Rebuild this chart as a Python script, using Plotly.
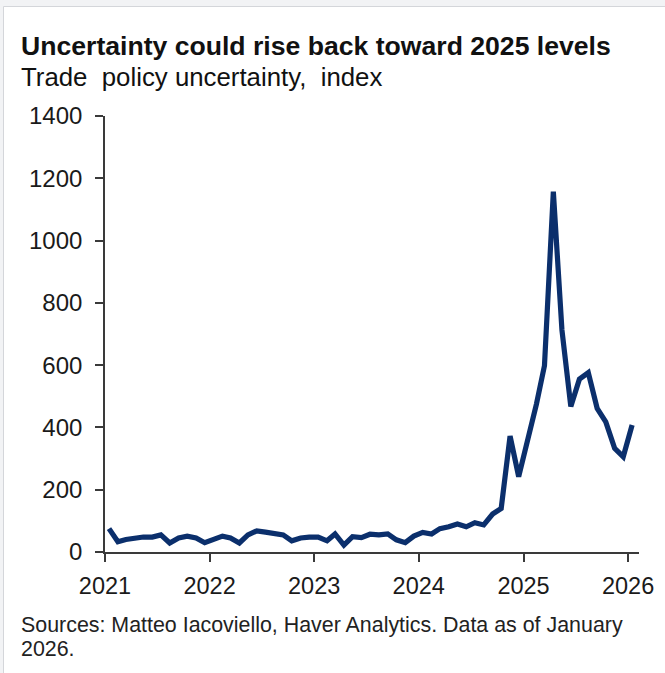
import plotly.graph_objects as go

# Trade policy uncertainty index, monthly, Jan 2021 - Jan 2026
years = [2021, 2022, 2023, 2024, 2025, 2026]
tpu_2021 = [75, 33, 40, 45, 48, 48, 55, 29, 45, 51, 45, 30]
tpu_2022 = [39, 51, 45, 29, 55, 68, 64, 58, 55, 36, 45, 48]
tpu_2023 = [48, 36, 58, 22, 49, 46, 57, 55, 58, 39, 30, 51]
tpu_2024 = [63, 58, 75, 81, 90, 81, 94, 87, 122, 140, 372, 242]
tpu_2025 = [355, 475, 598, 1157, 713, 467, 555, 576, 461, 418, 333, 306]
tpu_2026 = [408]

y_ticks = [0, 200, 400, 600, 800, 1000, 1200, 1400]
x_tick_labels = [str(y) for y in years]

title = "Uncertainty could rise back toward 2025 levels"
subtitle = "Trade\u00a0 policy uncertainty,\u00a0 index"
source_lines = ["Sources: Matteo Iacoviello, Haver Analytics. Data as of January",
                "2026."]

values = tpu_2021 + tpu_2022 + tpu_2023 + tpu_2024 + tpu_2025 + tpu_2026
# monthly observations plotted at mid-month
dates = []
for k in range(len(values)):
    yr = 2021 + k // 12
    mo = k % 12 + 1
    dates.append(f"{yr}-{mo:02d}-15")

W, H = 665, 673
L, R, T, B = 105, 26, 116, 121
PW, PH = W - L - R, H - T - B


def px_x(px):
    return (px - L) / PW


def px_y(py):
    return (H - B - py) / PH


FONT = "Liberation Sans, Arial, sans-serif"
INK = "#1a1a1a"
AXIS = "#3a3a3a"

fig = go.Figure()
fig.add_trace(go.Scatter(
    x=dates, y=values, mode="lines",
    line=dict(color="#0b2f6c", width=5.2),
    hoverinfo="skip", showlegend=False,
))

fig.update_layout(
    width=W, height=H,
    margin=dict(l=L, r=R, t=T, b=B, pad=0),
    paper_bgcolor="white", plot_bgcolor="white",
    font=dict(family=FONT, color=INK),
    xaxis=dict(
        type="date", range=["2021-01-01", "2026-02-08"],
        tickvals=[f"{y}-01-01" for y in years], ticktext=x_tick_labels,
        showgrid=False, zeroline=False,
        showline=True, linecolor=AXIS, linewidth=1.6,
        ticks="outside", ticklen=8, tickwidth=1.6, tickcolor=AXIS,
        tickfont=dict(size=23.5, color=INK, family=FONT),
        ticklabelstandoff=4,
    ),
    yaxis=dict(
        range=[0, 1400], tickvals=y_ticks,
        ticktext=[str(v) for v in y_ticks],
        showgrid=False, zeroline=False,
        showline=True, linecolor=AXIS, linewidth=1.6,
        ticks="outside", ticklen=8, tickwidth=1.6, tickcolor=AXIS,
        tickfont=dict(size=24, color=INK, family=FONT),
        ticklabelstandoff=8,
    ),
)

# card frame around the chart
fig.add_shape(type="rect", xref="paper", yref="paper",
              x0=px_x(0), x1=px_x(W), y0=px_y(0), y1=px_y(6.5),
              fillcolor="#f2f3f5", line=dict(width=0), layer="below")
fig.add_shape(type="rect", xref="paper", yref="paper",
              x0=px_x(0), x1=px_x(3.5), y0=px_y(0), y1=px_y(H),
              fillcolor="#f2f3f5", line=dict(width=0), layer="below")
fig.add_shape(type="line", xref="paper", yref="paper",
              x0=px_x(3.5), x1=px_x(W), y0=px_y(6.5), y1=px_y(6.5),
              line=dict(color="#d4d6da", width=1))
fig.add_shape(type="line", xref="paper", yref="paper",
              x0=px_x(3.5), x1=px_x(3.5), y0=px_y(6.5), y1=px_y(H),
              line=dict(color="#d4d6da", width=1))

fig.add_annotation(text=f"<b>{title}</b>", xref="paper", yref="paper",
                   x=px_x(19), y=px_y(46), xanchor="left", yanchor="middle",
                   showarrow=False, font=dict(size=26.6, color="#111111", family=FONT))
fig.add_annotation(text=subtitle, xref="paper", yref="paper",
                   x=px_x(19), y=px_y(77), xanchor="left", yanchor="middle",
                   showarrow=False, font=dict(size=25.8, color="#111111", family=FONT))
for i, line in enumerate(source_lines):
    fig.add_annotation(text=line, xref="paper", yref="paper",
                       x=px_x(19), y=px_y(625 + 24 * i), xanchor="left", yanchor="middle",
                       align="left", showarrow=False,
                       font=dict(size=21.4, color="#222222", family=FONT))

fig.write_html("out.html")
